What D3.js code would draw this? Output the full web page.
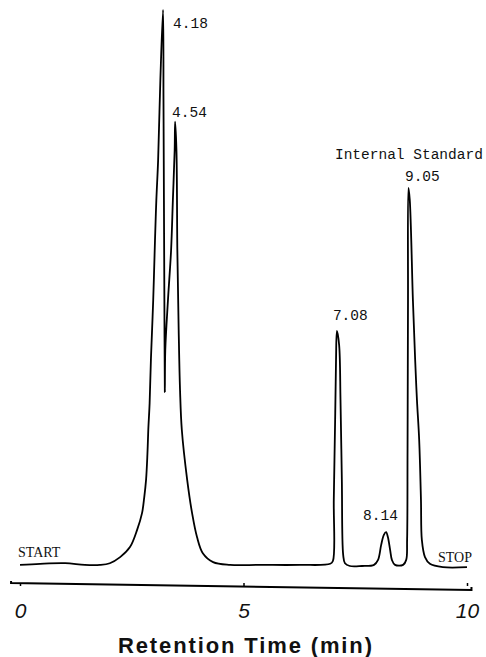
<!DOCTYPE html>
<html>
<head>
<meta charset="utf-8">
<script src="https://cdn.jsdelivr.net/npm/d3@7"></script>
<style>
  body { margin: 0; background: #fff; }
  svg { display: block; }
  .trace { fill: none; stroke: #000; stroke-width: 1.8; stroke-linejoin: round; }
  .mono { font-family: "Liberation Mono", "DejaVu Sans Mono", monospace; font-size: 14.5px; fill: #111; }
  .serif { font-family: "Liberation Serif", "DejaVu Serif", serif; font-size: 14px; fill: #111; }
</style>
</head>
<body>
<div id="container"></div>
<script>
// retention time (min) and detector signal (% of largest peak)
var time = [0.00, 0.45, 1.01, 1.45, 1.79, 2.01, 2.24, 2.46, 2.62, 2.73, 2.78, 2.82, 2.85, 2.87, 2.90, 2.93, 2.98, 3.02,
    3.05, 3.09, 3.14, 3.20,
    3.21, 3.22, 3.23, 3.24, 3.25, 3.31, 3.38, 3.42, 3.46, 3.47, 3.50, 3.52, 3.55, 3.58, 3.62, 3.74, 3.85, 3.96, 4.09,
    4.32, 4.70, 5.37, 6.26, 6.94, 7.00, 7.02, 7.05, 7.07, 7.09, 7.14, 7.17, 7.20, 7.23, 7.27, 7.38, 7.65, 7.92, 8.01,
    8.08, 8.14, 8.19, 8.23, 8.28, 8.32, 8.39, 8.57, 8.64, 8.66, 8.67, 8.68, 8.69, 8.72, 8.79, 8.84, 8.88, 8.93, 8.97,
    8.99, 9.06, 9.17, 9.46, 10.00];
var signal = [0.2, 0.4, 0.5, 0.2, 0.2, 0.5, 1.6, 3.4, 6.5, 9.5, 12.4, 15.5, 20.0, 24.5, 29.3, 37.4, 47.8, 58.6,
    65.8, 73.0, 87.4, 100,
    83.8, 65.8, 47.8, 31.3, 38.8, 47.8, 56.8, 65.8, 74.8, 79.9, 74.8, 56.8, 42.4, 31.7, 24.5, 15.5, 9.5, 5.2, 2.3,
    0.7, 0.2, 0.2, 0.2, 0.4, 0.9, 11.9, 26.3, 37.1, 42.3, 39.7, 29.9, 15.5, 2.0, 0.5, 0.0, 0.0, 0.2, 1.1,
    3.8, 5.6, 6.1, 5.2, 2.9, 1.1, 0.2, 0.2, 1.1, 4.7, 20.9, 47.8, 68.0, 65.8, 47.8, 37.1, 29.9, 22.7, 11.9,
    4.7, 1.6, 0.4, -0.2, -0.2];

var peakLabels = ["4.18", "4.54", "7.08", "8.14", "9.05"];
var peakTimes = [3.20, 3.47, 7.09, 8.19, 8.69];
var peakHeights = [100, 79.9, 42.3, 6.1, 68.0];
var tickValues = [0, 5, 10];
var xTitle = "Retention Time (min)";

var width = 486, height = 657;
var svg = d3.select('#container').append('svg').attr('width', width).attr('height', height);

var x = d3.scaleLinear().domain([0, 10]).range([20, 467]);
var y = d3.scaleLinear().domain([0, 100]).range([566, 10]);

var pts = time.map(function (t, i) { return [t, signal[i]]; });
var line = d3.line()
    .x(function (d) { return x(d[0]); })
    .y(function (d) { return y(d[1]); })
    .curve(d3.curveCatmullRom.alpha(0.5));

svg.append('path').attr('class', 'trace').attr('d', line(pts));

// peak labels (offsets from apex)
var offs = [[10, 18], [-3, -5], [-4, -11], [-23, -12], [-3.5, -7]];
svg.selectAll('.plabel').data(peakLabels).enter().append('text')
    .attr('class', 'mono plabel')
    .attr('x', function (d, i) { return x(peakTimes[i]) + offs[i][0]; })
    .attr('y', function (d, i) { return y(peakHeights[i]) + offs[i][1]; })
    .text(function (d) { return d; });

svg.append('text').attr('class', 'mono')
    .attr('x', x(peakTimes[4]) - 73.5).attr('y', y(peakHeights[4]) - 29)
    .text('Internal Standard');

svg.append('text').attr('class', 'serif').attr('x', 18).attr('y', 557).text('START');
svg.append('text').attr('class', 'serif').attr('x', 438).attr('y', 562).text('STOP');

// axis: slightly skewed base line as on the original plot
var y0 = 583, y1 = 590;
svg.append('path')
    .attr('d', 'M' + x(-0.2) + ',' + (y0 - 2) + 'L' + x(-0.2) + ',' + y0 + 'L' + x(10.1) + ',' + y1 + 'L' + x(10.1) + ',' + (y1 - 3))
    .attr('fill', 'none').attr('stroke', '#000').attr('stroke-width', 2);

var xAxis = d3.axisBottom(x).tickValues(tickValues).tickSize(-3).tickSizeOuter(0).tickFormat(d3.format('d'));
var gx = svg.append('g').attr('transform', 'translate(0, 586)').call(xAxis);
gx.select('.domain').remove();
gx.selectAll('.tick line').attr('stroke', '#000').attr('stroke-width', 1.5);
gx.selectAll('.tick text')
    .attr('y', 32).attr('dy', 0)
    .attr('fill', '#111')
    .style('font-family', '"Liberation Sans", Arial, sans-serif')
    .style('font-size', '21px')
    .style('font-style', 'italic');

svg.append('text')
    .attr('x', 245).attr('y', 653)
    .attr('text-anchor', 'middle')
    .attr('textLength', 254).attr('lengthAdjust', 'spacing')
    .style('font-family', '"Liberation Sans", Arial, sans-serif')
    .style('font-size', '22px')
    .style('font-weight', 'bold')
    .attr('fill', '#111')
    .text(xTitle);
</script>
</body>
</html>
